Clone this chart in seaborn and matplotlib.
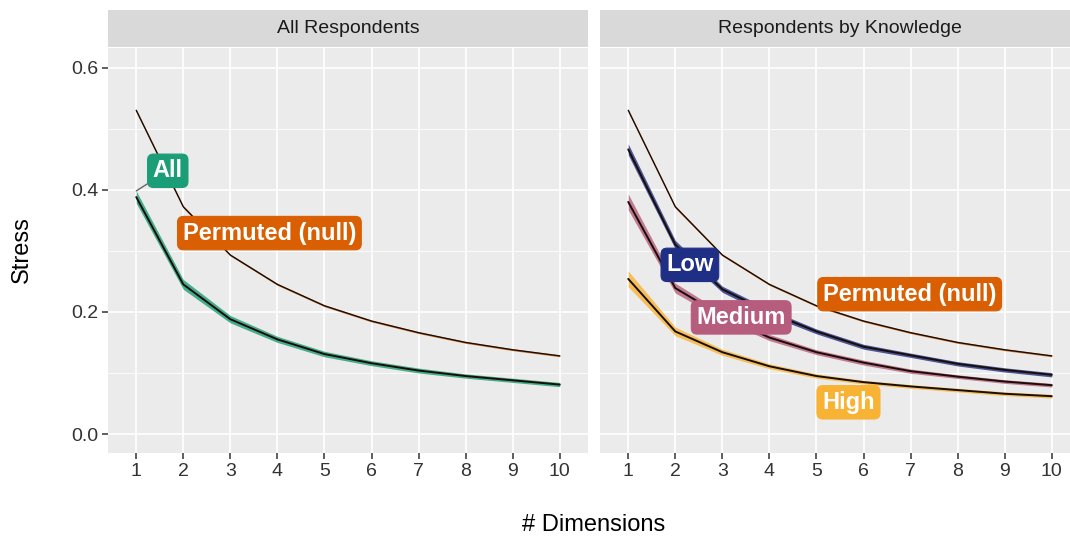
import numpy as np
import pandas as pd
import matplotlib
matplotlib.use("Agg")
import matplotlib.pyplot as plt
from matplotlib.patches import Rectangle
import seaborn as sns

# ---------------- data ----------------
dims = [1, 2, 3, 4, 5, 6, 7, 8, 9, 10]
xtick_labels = ["1", "2", "3", "4", "5", "6", "7", "8", "9", "10"]
ytick_vals = [0.0, 0.2, 0.4, 0.6]
ytick_labels = ["0.0", "0.2", "0.4", "0.6"]

permuted = [0.530, 0.372, 0.293, 0.245, 0.210, 0.185, 0.166, 0.150, 0.138, 0.128]
permuted_hw = [0.002, 0.002, 0.0015, 0.0015, 0.0015, 0.0015, 0.0015, 0.0015, 0.0015, 0.0015]

all_resp = [0.388, 0.245, 0.188, 0.155, 0.131, 0.116, 0.104, 0.095, 0.088, 0.081]
all_hw = [0.010, 0.008, 0.006, 0.005, 0.0045, 0.004, 0.004, 0.0035, 0.0035, 0.0035]

low = [0.466, 0.310, 0.237, 0.199, 0.168, 0.143, 0.129, 0.115, 0.105, 0.097]
low_hw = [0.009, 0.007, 0.005, 0.005, 0.004, 0.004, 0.0035, 0.0035, 0.0035, 0.0035]

medium = [0.380, 0.239, 0.193, 0.158, 0.134, 0.117, 0.103, 0.094, 0.086, 0.080]
medium_hw = [0.013, 0.008, 0.006, 0.005, 0.004, 0.004, 0.0035, 0.003, 0.003, 0.003]

high = [0.254, 0.168, 0.134, 0.111, 0.095, 0.085, 0.078, 0.072, 0.066, 0.062]
high_hw = [0.013, 0.007, 0.005, 0.004, 0.0035, 0.003, 0.003, 0.003, 0.003, 0.003]

panel_titles = ["All Respondents", "Respondents by Knowledge"]

colors = {
    "All": "#1B9E77",
    "Permuted (null)": "#D95F02",
    "Low": "#1F2F85",
    "Medium": "#B65C7D",
    "High": "#F8B334",
}

# label placements (text positions in data units)
left_labels = [("All", 1.67, 0.431), ("Permuted (null)", 3.83, 0.329)]
right_labels = [("Low", 2.31, 0.277), ("Permuted (null)", 6.98, 0.229),
                ("Medium", 3.40, 0.191), ("High", 5.68, 0.052)]

# ---------------- style ----------------
sns.set_theme(style="darkgrid")
plt.rcParams["font.family"] = ["Liberation Sans", "DejaVu Sans"]
plt.rcParams.update({
    "axes.facecolor": "#EBEBEB",
    "grid.color": "white",
    "axes.edgecolor": "none",
})

W, H = 1070, 539
fig = plt.figure(figsize=(W / 100, H / 100), dpi=100)

def px_rect(x0, y0, x1, y1):
    return [x0 / W, 1 - y1 / H, (x1 - x0) / W, (y1 - y0) / H]

ax1 = fig.add_axes(px_rect(108, 48, 588, 453))
ax2 = fig.add_axes(px_rect(600, 48, 1080, 453))

def make_df(series):
    rows = []
    for name, vals, hw in series:
        for d, v, h in zip(dims, vals, hw):
            rows.append({"dim": d, "stress": v, "lo": v - h, "hi": v + h, "group": name})
    return pd.DataFrame(rows)

left_series = [("Permuted (null)", permuted, permuted_hw), ("All", all_resp, all_hw)]
right_series = [("Permuted (null)", permuted, permuted_hw), ("Low", low, low_hw),
                ("Medium", medium, medium_hw), ("High", high, high_hw)]

for ax, series, title, labels in [(ax1, left_series, panel_titles[0], left_labels),
                                  (ax2, right_series, panel_titles[1], right_labels)]:
    df = make_df(series)
    for name, sub in df.groupby("group", sort=False):
        ax.fill_between(sub["dim"], sub["lo"], sub["hi"], color=colors[name],
                        alpha=0.8, lw=0, zorder=2)
    lw_map = {g: (1.0 if g == "Permuted (null)" else 1.4) for g in df["group"].unique()}
    for name, sub in df.groupby("group", sort=False):
        sns.lineplot(data=sub, x="dim", y="stress", ax=ax, color="#1a0d05",
                     lw=lw_map[name], legend=False, zorder=3, estimator=None)

    ax.set_xlim(0.4, 10.6)
    ax.set_ylim(-0.031, 0.632)
    ax.set_xticks(dims)
    ax.set_xticklabels(xtick_labels)
    ax.set_yticks(ytick_vals)
    ax.set_yticks([0.1, 0.3, 0.5], minor=True)
    ax.grid(which="major", color="white", lw=1.2)
    ax.grid(which="minor", axis="y", color="white", lw=0.6)
    ax.grid(which="minor", axis="x", visible=False)
    ax.set_xlabel("")
    ax.set_ylabel("")
    for s in ax.spines.values():
        s.set_visible(False)
    ax.tick_params(axis="x", which="major", length=4, width=1.1, color="#333333",
                   labelsize=14, labelcolor="#333333", pad=3, bottom=True)
    ax.tick_params(axis="y", which="minor", length=0)

    # strip
    ax.add_patch(Rectangle((0, 1.0025), 1, 0.0914, transform=ax.transAxes,
                           facecolor="#D9D9D9", edgecolor="none", clip_on=False, zorder=1))
    ax.text(0.5, 1.0025 + 0.0457, title, transform=ax.transAxes, ha="center",
            va="center", fontsize=14, color="#1A1A1A")

    for text, tx, ty in labels:
        c = colors[text]
        if text == "All":
            ax.annotate(text, xy=(1, all_resp[0] + all_hw[0]), xytext=(tx, ty),
                        ha="center", va="center", fontsize=17, fontweight="bold",
                        color="white", zorder=6,
                        bbox=dict(boxstyle="round,pad=0.22,rounding_size=0.25",
                                  fc=c, ec=c, lw=0.8),
                        arrowprops=dict(arrowstyle="-", color="#666666", lw=1.0,
                                        shrinkA=0, shrinkB=0))
        else:
            ax.text(tx, ty, text, ha="center", va="center", fontsize=17,
                    fontweight="bold", color="white", zorder=6,
                    bbox=dict(boxstyle="round,pad=0.22,rounding_size=0.25",
                              fc=c, ec=c, lw=0.8))

ax1.set_yticklabels(ytick_labels)
ax1.tick_params(axis="y", which="major", length=4, width=1.1, color="#333333",
                labelsize=14, labelcolor="#333333", pad=3, left=True)
ax2.set_yticklabels([])
ax2.tick_params(axis="y", which="major", length=0)

fig.text(22 / W, 1 - 250 / H, "Stress", rotation=90, ha="center", va="center",
         fontsize=17, color="black")
fig.text(594 / W, 1 - 525 / H, "# Dimensions", ha="center", va="center",
         fontsize=17, color="black")

fig.savefig("out.png", dpi=100, facecolor="white")
